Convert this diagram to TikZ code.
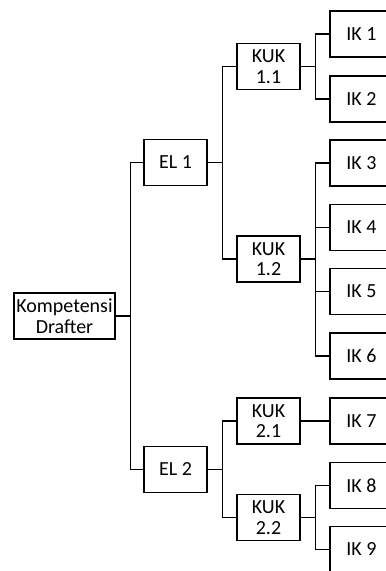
\documentclass[tikz,border=0pt]{standalone}
\usepackage{fontspec}
\setmainfont{Carlito}
\begin{document}
\begin{tikzpicture}[x=1pt,y=-1pt,
  box/.style={draw, line width=1.7pt, minimum width=63pt, minimum height=46pt, inner sep=0pt, align=center, font=\fontsize{20}{20.5}\selectfont},
  conn/.style={line width=1.5pt}]
\useasboundingbox (0,0) rectangle (386,571);
\clip (0,0) rectangle (386,571);
\node[box, minimum width=101pt] (root) at (64.5,316) {Kompetensi\\Drafter};
\node[box] (el1) at (175.5,162.5) {EL 1};
\node[box] (el2) at (175.5,469.5) {EL 2};
\node[box] (k11) at (268.5,66.5) {KUK\\1.1};
\node[box] (k12) at (268.5,259) {KUK\\1.2};
\node[box] (k21) at (268.5,421) {KUK\\2.1};
\node[box] (k22) at (268.5,517.5) {KUK\\2.2};
\node[box] (ik1) at (361.5,34) {IK 1};
\node[box] (ik2) at (361.5,99) {IK 2};
\node[box] (ik3) at (361.5,163) {IK 3};
\node[box] (ik4) at (361.5,227.5) {IK 4};
\node[box] (ik5) at (361.5,291.5) {IK 5};
\node[box] (ik6) at (361.5,356) {IK 6};
\node[box] (ik7) at (361.5,421) {IK 7};
\node[box] (ik8) at (361.5,485.5) {IK 8};
\node[box] (ik9) at (361.5,549.5) {IK 9};
\foreach \p/\c in {root/el1,root/el2,el1/k11,el1/k12,el2/k21,el2/k22,k11/ik1,k11/ik2,k12/ik3,k12/ik4,k12/ik5,k12/ik6,k22/ik8,k22/ik9}
  \draw[conn] (\p.east) -- ++(14.5,0) |- (\c.west);
\draw[conn] (k21.east) -- (ik7.west);
\end{tikzpicture}
\end{document}
